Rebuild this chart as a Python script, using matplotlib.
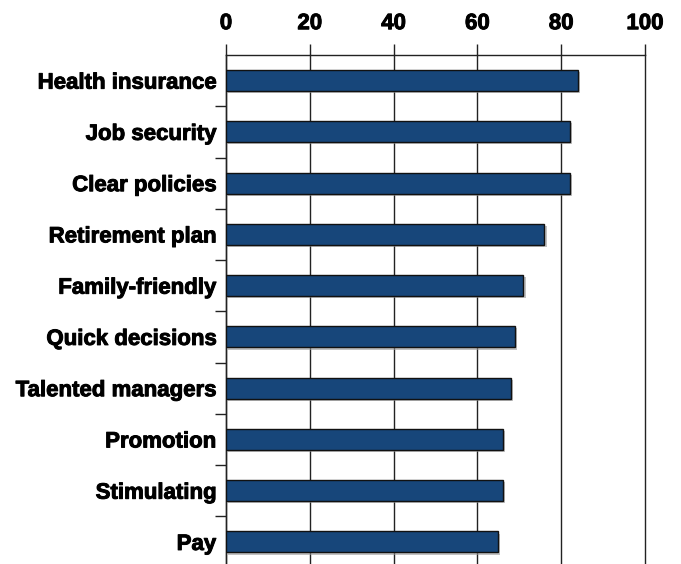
import matplotlib
matplotlib.use("Agg")
import matplotlib.pyplot as plt
import matplotlib.patheffects as pe
import numpy as np

categories = ["Health insurance", "Job security", "Clear policies", "Retirement plan",
              "Family-friendly", "Quick decisions", "Talented managers", "Promotion",
              "Stimulating", "Pay"]
values = [84, 82, 82, 76, 71, 69, 68, 66, 66, 65]
xticks = [0, 20, 40, 60, 80, 100]

plt.rcParams['font.family'] = ['Liberation Sans', 'DejaVu Sans']

fig = plt.figure(figsize=(6.81, 5.64), dpi=100)
ax = fig.add_axes([226/681, 0.0, (645-226)/681, (564-55)/564])

y = np.arange(len(categories))
bars = ax.barh(y, values, height=0.41, color='#17467a', edgecolor='#111111',
               linewidth=1.0, zorder=3)
for b in bars:
    b.set_path_effects([pe.SimplePatchShadow(offset=(1.5, -1.5), shadow_rgbFace='#999999', alpha=0.6),
                        pe.Normal()])

txt_fx = [pe.withStroke(linewidth=0.7, foreground='black')]

ax.set_xlim(0, 100)
ax.set_ylim(9.43, -0.5)
ax.xaxis.tick_top()
ax.set_xticks(xticks)
ax.set_xticklabels([str(t) for t in xticks], fontsize=16, fontweight='bold')
ax.tick_params(axis='x', length=8, width=1, color='#222222', pad=7)
ax.grid(axis='x', color='#222222', linewidth=1, zorder=1)
for gl in ax.get_xgridlines():
    gl.set_clip_on(False)

ax.set_yticks(y)
ax.set_yticklabels(categories, fontsize=16, fontweight='bold')
ax.tick_params(axis='y', which='major', length=0, pad=7)
ax.set_yticks(np.arange(0.5, len(categories) - 0.5, 1), minor=True)
ax.tick_params(axis='y', which='minor', length=8, width=1, color='#222222')

for lab in ax.get_xticklabels() + ax.get_yticklabels():
    lab.set_path_effects(txt_fx)

for s in ['right', 'bottom']:
    ax.spines[s].set_visible(False)
ax.spines['top'].set_color('#222222')
ax.spines['left'].set_color('#222222')
ax.spines['top'].set_linewidth(1)
ax.spines['left'].set_linewidth(1)

fig.savefig("out.png", dpi=100)
